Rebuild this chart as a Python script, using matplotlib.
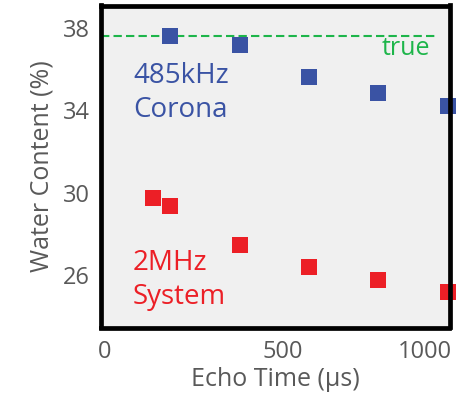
import matplotlib
matplotlib.use("Agg")
import matplotlib.pyplot as plt
import matplotlib.transforms as mtransforms

# Data
echo_corona = [200, 400, 600, 800, 1000]
water_corona = [37.62, 37.2, 35.6, 34.86, 34.2]
echo_2mhz = [150, 200, 400, 600, 800, 1000]
water_2mhz = [29.74, 29.33, 27.43, 26.4, 25.76, 25.19]
true_value = 37.62
xticks = [0, 500, 1000]
xtick_labels = ["0", "500", "1000"]
yticks = [26, 30, 34, 38]

plt.rcParams['font.family'] = ['Open Sans', 'DejaVu Sans']

BLUE = '#3a53a4'
RED = '#ec1f26'
GREEN = '#1db54a'
GRAY = '#595959'

fig = plt.figure(figsize=(4.67, 4.0), dpi=100)
ax = fig.add_axes([101/467, 1 - 327.5/400, (449.5-101)/467, (327.5-5.5)/400])
ax.set_facecolor('#f0f0f0')

ax.hlines(true_value, 0, 970, colors=GREEN, linestyles=(0, (4, 2)), linewidth=1.5, zorder=2)

ax.plot(echo_corona, water_corona, linestyle='none', marker='s', markersize=11,
        color=BLUE, markeredgewidth=0, zorder=3, clip_on=False)
ax.plot(echo_2mhz, water_2mhz, linestyle='none', marker='s', markersize=11,
        color=RED, markeredgewidth=0, zorder=3, clip_on=False)

ax.set_xlim(0, 1005)
ax.set_ylim(23.44, 39.1)

ax.text(92, 34.83, "485kHz\nCorona", color=BLUE, fontsize=20, ha='left', va='center', linespacing=1.3)
ax.text(92, 25.76, "2MHz\nSystem", color=RED, fontsize=20, ha='left', va='center', linespacing=1.3)
ax.text(948, 37.02, "true", color=GREEN, fontsize=18, ha='right', va='center')

for s in ax.spines.values():
    s.set_linewidth(3.4)
    s.set_color('black')
    s.set_zorder(4)

ax.set_xticks(xticks)
ax.set_xticklabels(xtick_labels)
ax.set_yticks(yticks)
ax.tick_params(axis='both', length=0, labelsize=17, labelcolor=GRAY)
ax.tick_params(axis='x', pad=9)
ax.tick_params(axis='y', pad=8)
xl = ax.get_xticklabels()
xl[0].set_ha('left')
xl[2].set_ha('right')
xl[0].set_transform(xl[0].get_transform() + mtransforms.ScaledTranslation(-3/100, 0, fig.dpi_scale_trans))
xl[1].set_transform(xl[1].get_transform() + mtransforms.ScaledTranslation(8/100, 0, fig.dpi_scale_trans))
xl[2].set_transform(xl[2].get_transform() + mtransforms.ScaledTranslation(4/100, 0, fig.dpi_scale_trans))

ax.set_xlabel("Echo Time (µs)", fontsize=18, color=GRAY, labelpad=2)
ax.set_ylabel("Water Content (%)", fontsize=18, color=GRAY, labelpad=6)

fig.savefig("out.png", dpi=100)
